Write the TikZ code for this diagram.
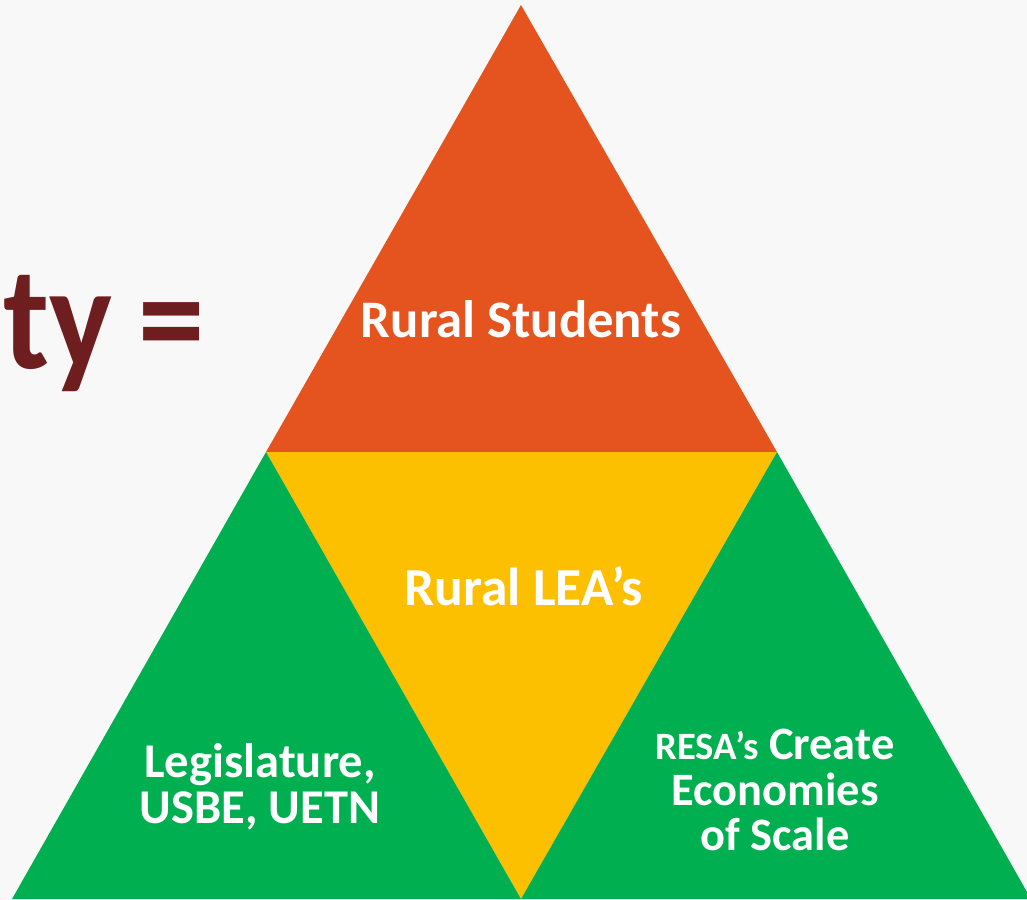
\documentclass[tikz,border=0pt]{standalone}
\usepackage{fontspec}
\usepackage{graphicx}
\setmainfont{Carlito}
\definecolor{pagegray}{HTML}{F8F8F8}
\definecolor{studentorange}{HTML}{E5531F}
\definecolor{leayellow}{HTML}{FDC000}
\definecolor{supportgreen}{HTML}{00B050}
\definecolor{titlebrown}{HTML}{6E1E1E}

\begin{document}
\begin{tikzpicture}[x=0.01cm, y=-0.01cm,
		piece label/.style={text=white, inner sep=0pt, align=center}]
		\fill[pagegray] (0,0) rectangle (1027,899);
		\clip (0,0) rectangle (1027,899);

		% corners of the pyramid
		\coordinate (apex) at (521,5);
		\coordinate (midL) at (266,452);
		\coordinate (midR) at (777,452);
		\coordinate (botL) at (12,899);
		\coordinate (botM) at (521,899);
		\coordinate (botR) at (1031,899);

		\fill[studentorange] (apex) -- (midL) -- (midR) -- cycle;
		\fill[leayellow] (midL) -- (midR) -- (botM) -- cycle;
		\fill[supportgreen] (midL) -- (botM) -- (botL) -- cycle;
		\fill[supportgreen] (midR) -- (botR) -- (botM) -- cycle;

		\node[piece label, font=\bfseries\fontsize{15}{18}\selectfont, anchor=base] (students) at (521,337) {Rural Students};
		\node[piece label, font=\bfseries\fontsize{15.2}{18}\selectfont, anchor=base] (leas) at (524,605) {Rural LEA’s};
		\node[piece label, font=\bfseries\fontsize{13.8}{13}\selectfont] (state) at (260,787) {Legislature,\\USBE, UETN};
		\node[piece label, font=\bfseries\fontsize{13.2}{13}\selectfont] (resas) at (775,790) {{\fontsize{11}{13}\selectfont RESA’s} Create\\Economies\\of Scale};

		\node[text=titlebrown, font=\bfseries\fontsize{42}{50}\selectfont, inner sep=0pt, anchor=base east] (equals) at (205,368) {\scalebox{0.9}[1]{ty\hspace{8pt}=}};
	\end{tikzpicture}
\end{document}
